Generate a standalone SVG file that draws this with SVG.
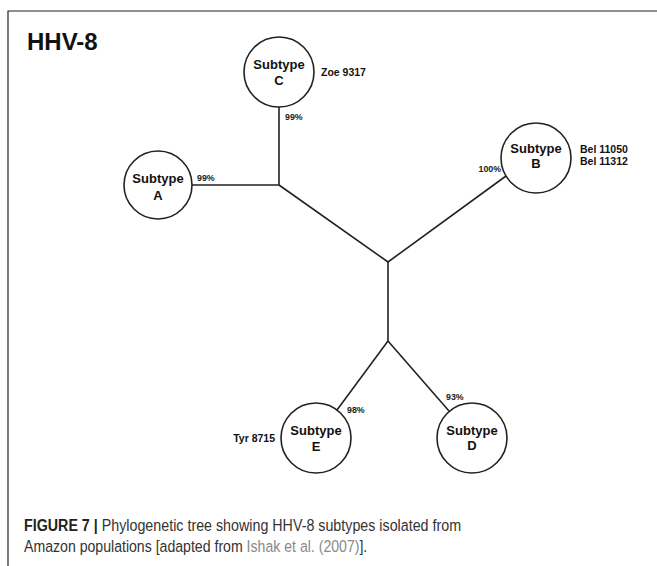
<svg xmlns="http://www.w3.org/2000/svg" width="657" height="566" viewBox="0 0 657 566">
<style>
.node circle{fill:#fff;stroke:#222;stroke-width:1.6}
.sub{font-family:"Liberation Sans",Arial,sans-serif;font-weight:bold;font-size:13px;fill:#111;text-anchor:middle}
.lbl{font-family:"Liberation Sans",Arial,sans-serif;font-weight:bold;font-size:10.5px;fill:#111}
.pct{font-family:"Liberation Sans",Arial,sans-serif;font-weight:bold;font-size:8.8px;fill:#222}
.edge{stroke:#222;stroke-width:1.6;fill:none}
.cap{font-family:"Liberation Sans",Arial,sans-serif;font-size:17px;fill:#333}
.capb{font-weight:bold;fill:#222}
.link{fill:#8a8a8a}
</style>
<rect width="657" height="566" fill="#fff"/>
<path d="M8 566 V11 H657" fill="none" stroke="#222" stroke-width="1.2"/>
<text x="27" y="50" font-family="Liberation Sans,Arial,sans-serif" font-weight="bold" font-size="24" fill="#111">HHV-8</text>
<g id="connectors">
<path class="edge" d="M279 107 V185 H192"/>
<path class="edge" d="M279 185 L388 262 L506 176"/>
<path class="edge" d="M388 262 V341 L337 410"/>
<path class="edge" d="M388 341 L449 411"/>
</g>
<g id="node-C" class="node"><circle cx="279" cy="72" r="35"/><text class="sub" x="279" y="69">Subtype</text><text class="sub" x="279" y="85">C</text></g>
<g id="node-A" class="node"><circle cx="158" cy="185" r="34"/><text class="sub" x="158" y="183">Subtype</text><text class="sub" x="158" y="200">A</text></g>
<g id="node-B" class="node"><circle cx="536" cy="158" r="35"/><text class="sub" x="536" y="153">Subtype</text><text class="sub" x="536" y="168">B</text></g>
<g id="node-E" class="node"><circle cx="316" cy="438" r="35"/><text class="sub" x="316" y="435">Subtype</text><text class="sub" x="316" y="451">E</text></g>
<g id="node-D" class="node"><circle cx="472" cy="438" r="35"/><text class="sub" x="472" y="435">Subtype</text><text class="sub" x="472" y="450">D</text></g>
<g id="labels">
<text class="lbl" x="321" y="76">Zoe 9317</text>
<text class="lbl" x="580" y="153">Bel 11050</text>
<text class="lbl" x="580" y="165">Bel 11312</text>
<text class="lbl" x="275" y="442" text-anchor="end">Tyr 8715</text>
<text class="pct" x="501" y="172" text-anchor="end">100%</text>
<text class="pct" x="285" y="120">99%</text>
<text class="pct" x="197" y="181">99%</text>
<text class="pct" x="347" y="413">98%</text>
<text class="pct" x="446" y="400">93%</text>
</g>
<g id="caption">
<text class="cap" transform="translate(24 531) scale(0.84 1)"><tspan class="capb">FIGURE 7 |</tspan> Phylogenetic tree showing HHV-8 subtypes isolated from</text>
<text class="cap" transform="translate(24 552) scale(0.83 1)">Amazon populations [adapted from <tspan class="link">Ishak et al. (2007)</tspan>].</text>
</g>
</svg>
